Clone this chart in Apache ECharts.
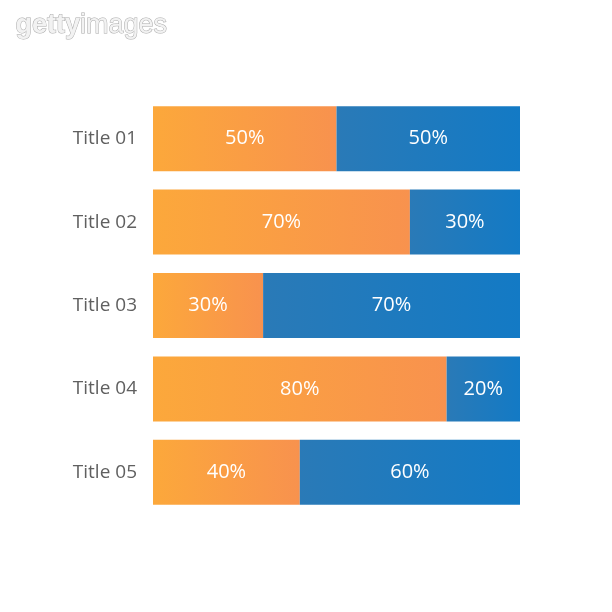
<!DOCTYPE html>
<html>
<head>
<meta charset="utf-8">
<script src="https://cdn.jsdelivr.net/npm/echarts@6/dist/echarts.min.js"></script>
<style>
  html, body { margin: 0; padding: 0; background: #fff; }
  #main { width: 612px; height: 612px; }
</style>
</head>
<body>
<div id="main"></div>
<script>
// data
var titles = ['Title 01', 'Title 02', 'Title 03', 'Title 04', 'Title 05'];
var orangeVals = [50, 70, 30, 80, 40];
var blueVals = [50, 30, 70, 20, 60];

var myChart = echarts.init(document.getElementById('main'));

var orangeGrad = new echarts.graphic.LinearGradient(0, 0, 1, 0, [
    { offset: 0, color: '#fca83b' },
    { offset: 1, color: '#f8924e' }
]);
var blueGrad = new echarts.graphic.LinearGradient(0, 0, 1, 0, [
    { offset: 0, color: '#2a7ab7' },
    { offset: 1, color: '#137ac5' }
]);

var labelStyle = {
    show: true,
    position: 'inside',
    color: '#fff',
    fontSize: 20,
    fontFamily: 'Open Sans',
    formatter: '{c}%'
};

myChart.setOption({
    animation: false,
    backgroundColor: '#fff',
    graphic: [{
        type: 'text',
        left: 15,
        top: 12,
        style: {
            text: '{a|getty}{b|images}',
            rich: {
                a: { fontSize: 27, fontWeight: 'bold', fontFamily: 'Liberation Sans', fill: '#f2f2f2', stroke: '#aaa', lineWidth: 1 },
                b: { fontSize: 27, fontFamily: 'Liberation Sans', fill: '#f2f2f2', stroke: '#aaa', lineWidth: 1 }
            }
        }
    }],
    grid: { left: 153, right: 92, top: 97, bottom: 98 },
    xAxis: {
        type: 'value',
        min: 0,
        max: 100,
        show: false
    },
    yAxis: {
        type: 'category',
        data: titles,
        inverse: true,
        axisLine: { show: false },
        axisTick: { show: false },
        axisLabel: {
            color: '#606060',
            fontSize: 19,
            fontFamily: 'Open Sans',
            margin: 16
        }
    },
    series: [{
        type: 'bar',
        stack: 'total',
        barWidth: 65,
        data: orangeVals,
        itemStyle: { color: orangeGrad },
        label: labelStyle
    }, {
        type: 'bar',
        stack: 'total',
        barWidth: 65,
        data: blueVals,
        itemStyle: { color: blueGrad },
        label: labelStyle
    }]
});
</script>
</body>
</html>
